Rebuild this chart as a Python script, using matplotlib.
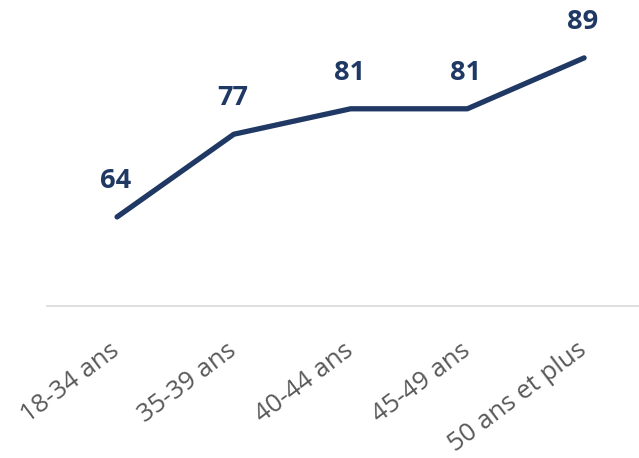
import matplotlib
matplotlib.use("Agg")
import matplotlib.pyplot as plt

categories = ["18-34 ans", "35-39 ans", "40-44 ans", "45-49 ans", "50 ans et plus"]
values = [64, 77, 81, 81, 89]

plt.rcParams['font.family'] = ['Open Sans', 'DejaVu Sans']

fig = plt.figure(figsize=(6.39, 4.58), dpi=100)
W, H = 639, 458
ax = fig.add_axes([47 / W, 1 - 306 / H, (639 - 47) / W, 306 / H])

x = list(range(len(categories)))
color = "#1F3864"
ax.plot(x, values, color=color, lw=3.8, solid_capstyle="round", solid_joinstyle="round")
for xi, v in zip(x, values):
    ax.annotate(str(v), (xi, v), xytext=(-1.0, 26), textcoords="offset points",
                ha="center", va="center", fontsize=19.5, fontweight="bold", color=color)

ax.set_xlim(-0.6, 4.47)
ax.set_ylim(50, 98.1)
ax.set_yticks([])
ax.set_xticks(x)
ax.set_xticklabels(categories, rotation=37, ha="right", va="center", rotation_mode="anchor",
                   fontsize=18.5, color="#595959")
ax.tick_params(axis="x", length=0, pad=30)
for s in ["top", "right", "left"]:
    ax.spines[s].set_visible(False)
ax.spines["bottom"].set_color("#D9D9D9")
ax.spines["bottom"].set_linewidth(1.2)

fig.savefig("out.png", dpi=100)
